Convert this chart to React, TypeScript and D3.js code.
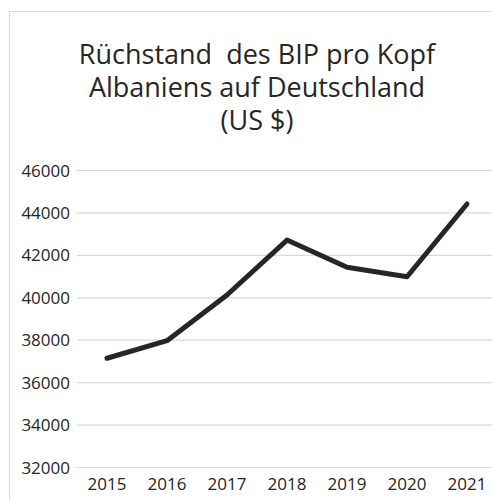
import * as d3 from "d3";

const width = 492;
const height = 500;
const margin = { top: 170.5, right: -5, bottom: 32.5, left: 77 };

// data
const years = ["2015", "2016", "2017", "2018", "2019", "2020", "2021"];
const gap = [37150, 37980, 40130, 42720, 41440, 40990, 44420];
const yTicks = [32000, 34000, 36000, 38000, 40000, 42000, 44000, 46000];
const titleLines = ["Rüchstand  des BIP pro Kopf", "Albaniens auf Deutschland", "(US $)"];

const font = "'Open Sans', sans-serif";

const App = () => {
  const xScale = d3
    .scaleBand<string>()
    .domain(years)
    .range([margin.left, width - margin.right]);

  const yScale = d3
    .scaleLinear()
    .domain([32000, 46000])
    .range([height - margin.bottom, margin.top]);

  const cx = (y: string) => (xScale(y) ?? 0) + xScale.bandwidth() / 2;

  const line = d3
    .line<number>()
    .x((_, i) => cx(years[i]))
    .y((d) => yScale(d));

  return (
    <svg
      width={width}
      height={height}
      style={{ position: "absolute", left: 0, top: 0, background: "#fff" }}
    >
      {/* chart frame */}
      <rect x={9.5} y={11.5} width={width} height={height} fill="none" stroke="#d9d9d9" />

      {/* title */}
      <g fontFamily={font} fontSize={27} fill="#262626" textAnchor="middle">
        {titleLines.map((t, i) => (
          <text key={i} x={257} y={64 + i * 33} xmlSpace="preserve">
            {t}
          </text>
        ))}
      </g>

      {/* grid + y labels */}
      {yTicks.map((t) => (
        <g key={t}>
          <line
            x1={margin.left}
            x2={width - margin.right}
            y1={yScale(t)}
            y2={yScale(t)}
            stroke="#d9d9d9"
            strokeWidth={1.2}
          />
          <text
            x={70}
            y={yScale(t) + 6}
            textAnchor="end"
            fontFamily={font}
            fontSize={17}
            fill="#262626"
          >
            {t}
          </text>
        </g>
      ))}

      {/* x labels */}
      {years.map((y) => (
        <text
          key={y}
          x={cx(y)}
          y={490}
          textAnchor="middle"
          fontFamily={font}
          fontSize={17}
          fill="#262626"
        >
          {y}
        </text>
      ))}

      <path
        d={line(gap) ?? undefined}
        fill="none"
        stroke="#262626"
        strokeWidth={5}
        strokeLinecap="round"
        strokeLinejoin="round"
      />
    </svg>
  );
};

export default App;
